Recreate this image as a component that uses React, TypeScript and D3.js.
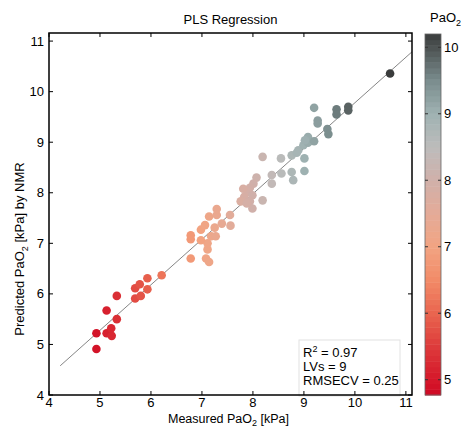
import React from 'react';
import * as d3 from 'd3';

const width = 461;
const height = 428;
const margin = { top: 33, right: 49, bottom: 33, left: 49 };

// measured vs predicted PaO2 (kPa)
const measured = [
  4.93, 4.93, 5.13, 5.23, 5.22, 5.33, 5.13, 5.33, 5.69, 5.80, 5.69, 5.78, 5.93, 5.93, 6.21,
  6.78, 7.08, 7.14, 7.11, 7.11, 6.98, 6.78, 6.78, 7.18, 7.27, 6.98, 7.06, 7.25, 7.14, 7.29,
  7.29, 7.55, 7.56, 7.39,
  8.19, 8.07, 8.01, 7.94, 7.91, 7.81, 7.99, 7.83, 7.76, 7.94, 8.19, 7.99, 7.88, 8.37, 8.37,
  8.55, 8.56, 8.76, 8.76, 8.79, 8.89, 9.01, 9.01, 8.99, 9.08, 9.08, 9.02, 9.20, 8.86,
  9.20, 9.27, 9.27, 9.64, 9.64, 9.87, 9.87, 9.46, 9.48, 10.69,
];
const predicted = [
  4.91, 5.22, 5.22, 5.17, 5.32, 5.50, 5.67, 5.96, 5.91, 5.96, 6.11, 6.19, 6.31, 6.09, 6.37,
  6.70, 6.70, 6.63, 6.88, 7.00, 7.06, 7.08, 7.16, 7.14, 7.14, 7.27, 7.36, 7.31, 7.53, 7.56,
  7.68, 7.56, 7.35, 7.39,
  8.71, 8.30, 8.18, 8.10, 8.02, 8.08, 7.95, 7.92, 7.83, 7.83, 7.85, 7.69, 7.79, 8.35, 8.18,
  8.68, 8.38, 8.74, 8.41, 8.25, 8.84, 8.68, 8.43, 8.94, 8.99, 9.10, 9.04, 9.02, 8.79,
  9.68, 9.43, 9.37, 9.65, 9.55, 9.70, 9.63, 9.26, 9.16, 10.36,
];

const axisTicks = [4, 5, 6, 7, 8, 9, 10, 11];
const barTicks = [5, 6, 7, 8, 9, 10];
const fitLine = { slope: 0.9, intercept: 0.78, from: 4.22, to: 11.12 };
const stats = ['0.97', '9', '0.25'];

const colorStops = [4.77, 5.0, 5.5, 6.0, 6.5, 7.0, 7.5, 8.0, 8.5, 9.0, 9.5, 10.0, 10.2];
const colorValues = [
  '#cf0a24', '#d5172a', '#dd3b3b', '#e9654f', '#f28b68', '#f2a482', '#e4ab98',
  '#d0b0aa', '#bdbcbb', '#9fb2b2', '#7a8c8d', '#4d5353', '#3a3c3c',
];

const font = '"Liberation Sans", Arial, sans-serif';

const x = d3.scaleLinear().domain([4, 11.12]).range([margin.left, width - margin.right]);
const y = d3.scaleLinear().domain([4, 11.16]).range([height - margin.bottom, margin.top]);
const color = d3.scaleLinear<string>().domain(colorStops).range(colorValues).clamp(true);

const bar = { x: 425, w: 16, top: 34, bottom: 395 };
const cy = d3.scaleLinear().domain([4.77, 10.2]).range([bar.bottom, bar.top]);

export default function App() {
  const points = measured.map((m, i) => ({ m, p: predicted[i] }));
  const bands = d3.range(64).map((i) => {
    const v0 = 4.77 + (i * (10.2 - 4.77)) / 64;
    const v1 = 4.77 + ((i + 1) * (10.2 - 4.77)) / 64;
    return { y: cy(v1), h: cy(v0) - cy(v1) + 0.5, fill: color((v0 + v1) / 2) };
  });
  const left = margin.left;
  const right = width - margin.right;
  const top = margin.top;
  const bottom = height - margin.bottom;

  return (
    <svg width={width} height={height} style={{ position: 'absolute', left: 0, top: 0 }} fontFamily={font}>
      <rect width={width} height={height} fill="#fff" />
      <text x={(left + right) / 2} y={24} textAnchor="middle" fontSize={13}>PLS Regression</text>

      <line
        x1={x(fitLine.from)} y1={y(fitLine.intercept + fitLine.slope * fitLine.from)}
        x2={x(fitLine.to)} y2={y(fitLine.intercept + fitLine.slope * fitLine.to)}
        stroke="#777" strokeWidth={0.9}
      />
      {points.map((d, i) => (
        <circle key={i} cx={x(d.m)} cy={y(d.p)} r={4.3} fill={color(d.m)} />
      ))}

      <rect x={299} y={340} width={101} height={56} fill="#fff" stroke="#e2e2e2" />
      <text x={303} y={357} fontSize={13}>R<tspan dy={-5} fontSize={9}>2</tspan><tspan dy={5}> = {stats[0]}</tspan></text>
      <text x={303} y={371} fontSize={13}>LVs = {stats[1]}</text>
      <text x={303} y={385} fontSize={13}>RMSECV = {stats[2]}</text>

      <rect x={left} y={top} width={right - left} height={bottom - top} fill="none" stroke="#000" strokeWidth={1.5} />
      {axisTicks.map((t) => (
        <g key={t}>
          <line x1={x(t)} x2={x(t)} y1={bottom} y2={bottom - 4} stroke="#000" />
          <line x1={x(t)} x2={x(t)} y1={top} y2={top + 4} stroke="#000" />
          <line x1={left} x2={left + 4} y1={y(t)} y2={y(t)} stroke="#000" />
          <line x1={right} x2={right - 4} y1={y(t)} y2={y(t)} stroke="#000" />
          <text x={x(t)} y={407} textAnchor="middle" fontSize={13}>{t}</text>
          <text x={44} y={y(t) + 4.5} textAnchor="end" fontSize={13}>{t}</text>
        </g>
      ))}
      <text x={(left + right) / 2 - 2} y={422.5} textAnchor="middle" fontSize={12.5}>
        Measured PaO<tspan dy={3.5} fontSize={9}>2</tspan><tspan dy={-3.5}> [kPa]</tspan>
      </text>
      <text transform={`translate(24, 249) rotate(-90)`} textAnchor="middle" fontSize={13}>
        Predicted PaO<tspan dy={4} fontSize={9}>2</tspan><tspan dy={-4}> [kPa] by NMR</tspan>
      </text>

      {bands.map((b, i) => (
        <rect key={i} x={bar.x} y={b.y} width={bar.w} height={b.h} fill={b.fill} />
      ))}
      <rect x={bar.x} y={bar.top} width={bar.w} height={bar.bottom - bar.top} fill="none" stroke="#666" strokeWidth={0.8} />
      {barTicks.map((t) => (
        <g key={t}>
          <line x1={bar.x} x2={bar.x + 3} y1={cy(t)} y2={cy(t)} stroke="#333" />
          <line x1={bar.x + bar.w} x2={bar.x + bar.w - 3} y1={cy(t)} y2={cy(t)} stroke="#333" />
          <text x={bar.x + bar.w + 3} y={cy(t) + 4.5} fontSize={13}>{t}</text>
        </g>
      ))}
      <text x={430} y={22} fontSize={13}>PaO<tspan dy={4} fontSize={9}>2</tspan></text>
    </svg>
  );
}
